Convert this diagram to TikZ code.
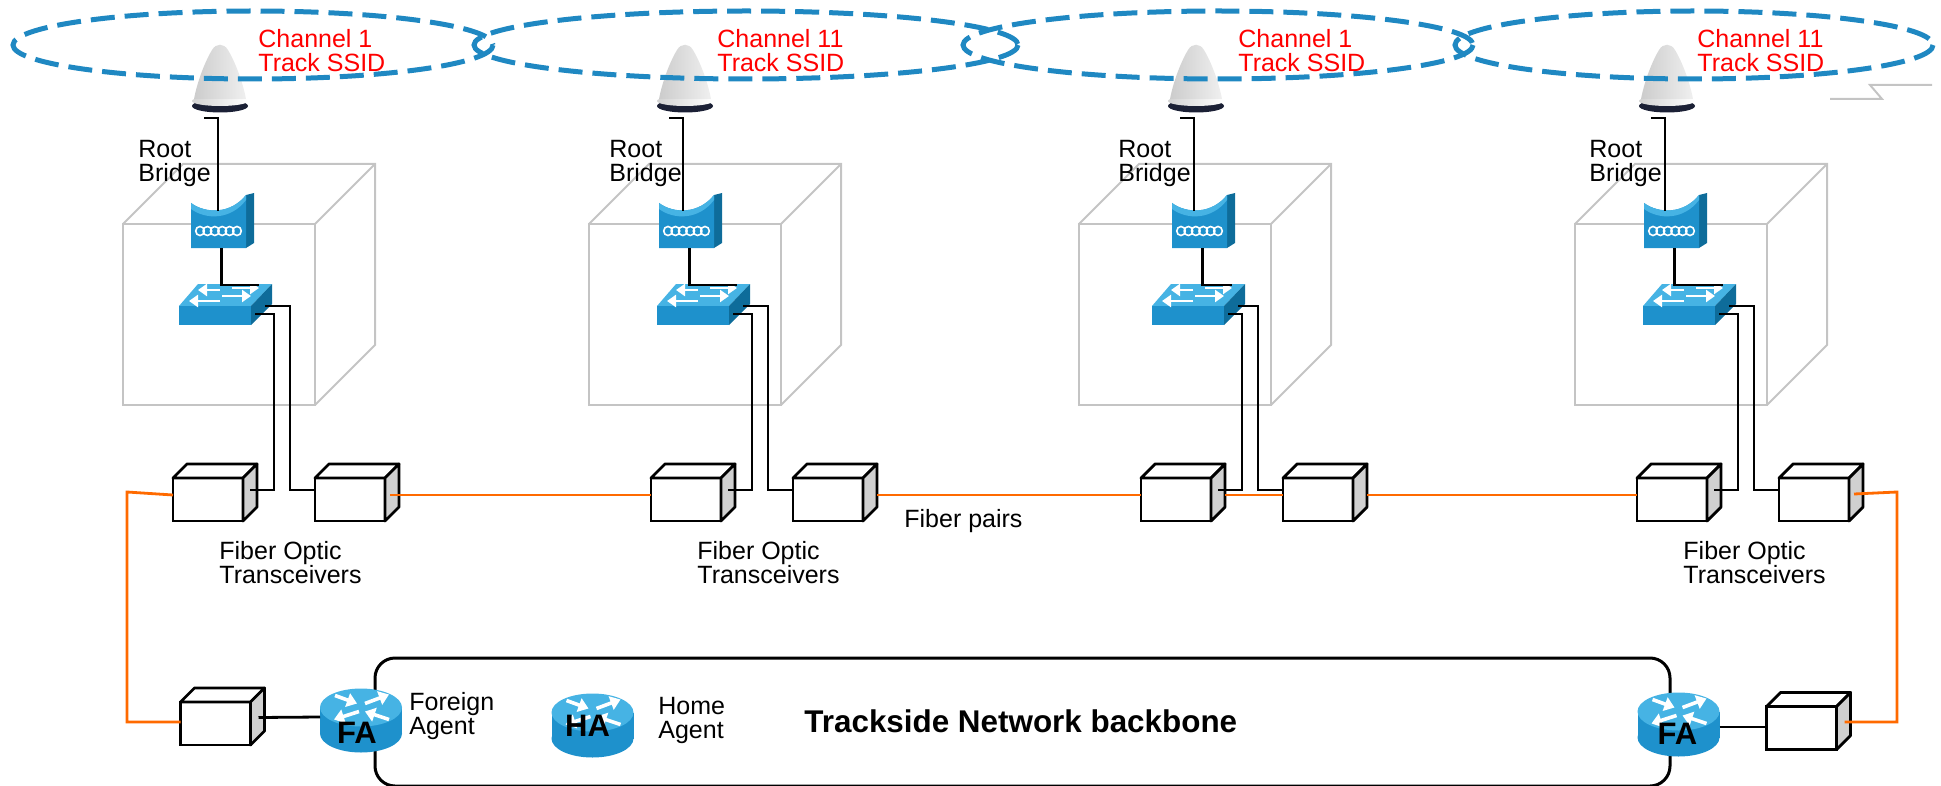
\documentclass[tikz,border=0pt]{standalone}
\usepackage{fontspec}
\setmainfont{Liberation Sans}
\usetikzlibrary{calc,arrows.meta}

\definecolor{ssid}{HTML}{1F88C2}
\definecolor{fiber}{HTML}{FF6A00}
\definecolor{boxgray}{HTML}{C4C4C4}
\definecolor{sidegray}{HTML}{D0D0D0}
\definecolor{ciscolt}{HTML}{46B3E4}
\definecolor{ciscomid}{HTML}{1E91CC}
\definecolor{ciscodk}{HTML}{0E6C9A}
\definecolor{antbase}{HTML}{1B2035}

\tikzset{
  cell/.style={ssid, line width=2.5pt, dash pattern=on 12pt off 5pt},
  lbl/.style={font=\fontsize{12.5pt}{12pt}\selectfont, inner sep=0pt, align=left, anchor=north west},
  chan/.style={lbl, text=red},
  wire/.style={line width=1.4pt, black},
  fiberline/.style={fiber, line width=1.4pt},
  frame/.style={boxgray, line width=1pt},
  xcvr/.style={draw=black, fill=white, line width=1.4pt, minimum width=35pt,
               minimum height=21.5pt, inner sep=0pt, outer sep=0pt},
  xface/.style={draw=black, line width=1.4pt, line join=round},
  icon/.style={inner sep=0pt, outer sep=0pt},
  rtext/.style={font=\bfseries\fontsize{15.5pt}{15.5pt}\selectfont, inner sep=0pt},
  warrow/.style={white, line width=1.4pt, -{Triangle[width=6pt,length=4.5pt]}},
  rarrow/.style={white, line width=1.8pt, -{Triangle[width=7pt,length=5pt]}},
}

% fibre optic transceiver: name, centre x, centre y
\newcommand\xcvr[3]{%
  \node[xcvr] (#1) at (#2,#3) {};
  \filldraw[xface, fill=white] (#1.north west) -- ++(14,-14) -- ++(70,0) -- (#1.north east) -- cycle;
  \filldraw[xface, fill=sidegray] (#1.north east) -- ++(14,-14) -- ++(0,43) -- (#1.south east) -- cycle;
}

% wire-frame enclosure: front-left x
\newcommand\cage[1]{%
  \draw[frame] (#1,224) rectangle ++(192,181);
  \draw[frame] (#1,224) -- ++(60,-60) -- ++(192,0) -- ++(0,181) -- ++(-60,60);
  \draw[frame] (#1+192,224) -- ++(60,-60);
}

% mast antenna: name, centre x
\newcommand\antenna[2]{%
  \begin{scope}[shift={(#2,0)}]
    \fill[antbase] (0,106) ellipse [x radius=28, y radius=6.5];
    \shade[left color=gray!35, right color=white] (0,101) ellipse [x radius=28, y radius=5];
    \shade[left color=gray!40, middle color=white, right color=gray!12]
      (-26,99) .. controls (-22,78) and (-13,58) .. (-8,50)
      .. controls (-4,43) and (4,43) .. (8,50)
      .. controls (13,58) and (22,78) .. (26,99) -- cycle;
    \node[icon, minimum width=28pt, minimum height=33.5pt] (#1) at (0,78.5) {};
  \end{scope}
}

% root bridge: name, left x, top y
\newcommand\bridge[3]{%
  \begin{scope}[shift={(#2,#3)}]
    \fill[ciscodk] (55,-8) -- (63,-10) -- (63,40) -- (55,45) -- cycle;
    \fill[ciscomid] (0,0) .. controls (15,11) and (40,11) .. (55,-8) -- (55,45) -- (0,45) -- cycle;
    \fill[ciscolt] (0,0) .. controls (15,11) and (40,11) .. (55,-8) -- (55,-3)
      .. controls (40,17) and (15,17) .. (0,6) -- cycle;
    \foreach \i in {0,...,5}
      \draw[white, line width=0.8pt] (9+7.4*\i,28) ellipse [x radius=4.3, y radius=4.5];
    \node[icon, minimum width=27.5pt, minimum height=22.5pt] (#1) at (27.5,22.5) {};
  \end{scope}
}

% workgroup switch: name, left x, top y of front face
\newcommand\switchicon[3]{%
  \begin{scope}[shift={(#2,#3)}]
    \fill[ciscolt] (0,0) -- (19,-22) -- (93,-22) -- (72,0) -- cycle;
    \fill[ciscomid] (0,0) rectangle (72,19);
    \fill[ciscodk] (72,0) -- (93,-22) -- (93,-2) -- (72,19) -- cycle;
    \draw[warrow] (41,-16) -- (19,-16);
    \draw[warrow] (53,-18) -- (80,-18);
    \draw[warrow] (41,-5) -- (10,-5);
    \draw[warrow] (43,-10) -- (72,-10);
    \node[icon, minimum width=36pt, minimum height=9.5pt] (#1) at (36,9.5) {};
  \end{scope}
}

% router: name, centre x, centre y, label, label position
\newcommand\router[5]{%
  \begin{scope}[shift={(#2,#3)}]
    \fill[ciscomid] (0,13) ellipse [x radius=41, y radius=19];
    \fill[ciscomid] (-41,-13) rectangle (41,13);
    \fill[ciscolt] (0,-13) ellipse [x radius=41, y radius=19];
    \draw[rarrow] (-26,-25) -- (-4,-17);
    \draw[rarrow] (4,-17) -- (28,-26);
    \draw[rarrow] (-2,-9) -- (-27,-1);
    \draw[rarrow] (28,-1) -- (4,-9);
    \node[icon, minimum width=41pt, minimum height=32pt] (#1) at (0,0) {};
    \node[rtext] at (#5) {#4};
  \end{scope}
}

\begin{document}
\begin{tikzpicture}[x=0.5pt, y=-0.5pt]
\useasboundingbox (0,0) rectangle (1941,786);

% enclosures
\cage{123} \cage{589} \cage{1079} \cage{1575}

% antennas, bridges, switches
\antenna{ant1}{220} \antenna{ant2}{685} \antenna{ant3}{1196} \antenna{ant4}{1667}
\bridge{br1}{191}{203} \bridge{br2}{659}{203} \bridge{br3}{1172}{203} \bridge{br4}{1644}{203}
\switchicon{sw1}{179}{306} \switchicon{sw2}{657}{306} \switchicon{sw3}{1152}{306} \switchicon{sw4}{1643}{306}

% transceivers
\xcvr{t11}{208}{499.5}  \xcvr{t12}{350}{499.5}
\xcvr{t21}{686}{499.5}  \xcvr{t22}{828}{499.5}
\xcvr{t31}{1176}{499.5} \xcvr{t32}{1318}{499.5}
\xcvr{t41}{1672}{499.5} \xcvr{t42}{1814}{499.5}
\xcvr{tbl}{215.5}{723.5} \xcvr{tbr}{1801.5}{728}

% trackside backbone
\draw[line width=1.5pt, rounded corners=10pt] (375,658) rectangle (1670,786);

% routers
\router{fa1}{361}{720.5}{FA}{-4,12}
\router{ha}{592.5}{725.5}{HA}{-5,0}
\router{fa2}{1678.5}{724.5}{FA}{-1,9.5}

% copper wiring inside each unit
\foreach \u in {1,2,3,4}{
  \draw[wire] ($(ant\u.south)+(-16,6)$) -- ($(ant\u.south)+(-2,6)$) -- ($(ant\u.south |- br\u.north)+(-2,8)$);
  \draw[wire] ($(br\u.south)+(3,0)$) |- ($(sw\u.north east)+(8,-21)$);
  \draw[wire] ($(sw\u.east)+(4,-1.5)$) -| ($(t\u1.east)+(31,-9.5)$) -- ($(t\u1.east)+(7,-9.5)$);
  \draw[wire] ($(sw\u.east)+(14,-9.5)$) -| ($(t\u1.east)+(47,-9.5)$) -- ($(t\u2.west)+(0,-9.5)$);
}
\draw[wire] ($(tbl.east)+(8,-6)$) -- ($(fa1.west)+(0,-3.5)$);
\draw[wire] ($(fa2.east)+(0,2.5)$) -- ($(tbr.west)+(0,-1)$);

% fibre pairs
\draw[fiberline] ($(t11.west)+(0,-4.5)$) -- (127,492) |- ($(tbl.west)+(0,-1.5)$);
\draw[fiberline] ($(t12.east)+(5,-4.5)$) -- ($(t21.west)+(0,-4.5)$);
\draw[fiberline] ($(t22.east)+(14,-4.5)$) -- ($(t31.west)+(0,-4.5)$);
\draw[fiberline] ($(t31.east)+(14,-4.5)$) -- ($(t32.west)+(0,-4.5)$);
\draw[fiberline] ($(t32.east)+(14,-4.5)$) -- ($(t41.west)+(0,-4.5)$);
\draw[fiberline] ($(t42.east)+(5,-5.5)$) -- (1897,492) |- ($(tbr.east)+(8,-6)$);

% radio cells
\draw[cell] (253,45) ellipse [x radius=240, y radius=34];
\draw[cell] (746,45) ellipse [x radius=272, y radius=34];
\draw[cell] (1218,45) ellipse [x radius=255, y radius=34];
\draw[cell] (1694,45) ellipse [x radius=239, y radius=34];
\draw[boxgray, line width=1pt] (1830,99) -- (1882,99) -- (1870,85) -- (1932,85);

% labels
\node[chan] (c1) at (258,29) {Channel 1\\Track SSID};
\node[chan] (c2) at (717,29) {Channel 11\\Track SSID};
\node[chan] (c3) at (1238,29) {Channel 1\\Track SSID};
\node[chan] (c4) at (1697,29) {Channel 11\\Track SSID};
\node[lbl] (rb1) at (138,140) {Root\\Bridge};
\node[lbl] (rb2) at (609,140) {Root\\Bridge};
\node[lbl] (rb3) at (1118,140) {Root\\Bridge};
\node[lbl] (rb4) at (1589,140) {Root\\Bridge};
\node[lbl] (fo1) at (219,541) {Fiber Optic\\Transceivers};
\node[lbl] (fo2) at (697,541) {Fiber Optic\\Transceivers};
\node[lbl] (fo4) at (1683,541) {Fiber Optic\\Transceivers};
\node[lbl] (fp) at (904,509) {Fiber pairs};
\node[lbl] (fal) at (409,692) {Foreign\\Agent};
\node[lbl] (hal) at (658,697) {Home\\Agent};
\node[font=\bfseries\fontsize{15.7pt}{16pt}\selectfont, inner sep=0pt, anchor=base west] (tnb) at (804,732) {Trackside Network backbone};
\end{tikzpicture}
\end{document}
